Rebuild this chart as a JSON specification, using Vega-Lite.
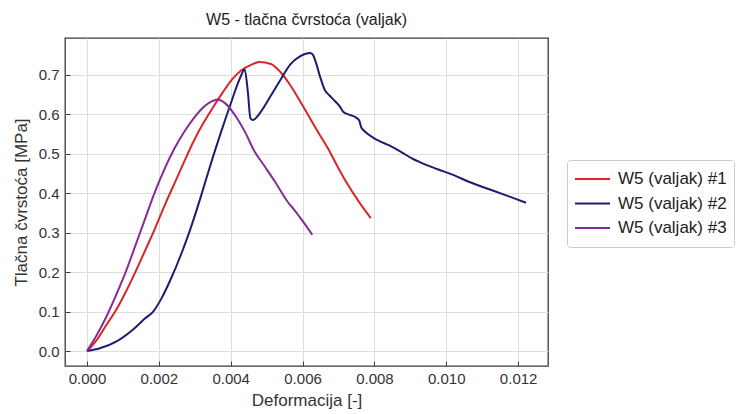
{
  "$schema": "https://vega.github.io/schema/vega-lite/v6.json",
  "width": 483,
  "height": 328,
  "autosize": {"type": "none"},
  "padding": {"left": 65, "top": 38, "right": 197, "bottom": 48},
  "background": "white",
  "title": {
    "text": "W5 - tlačna čvrstoća (valjak)",
    "font": "Liberation Sans",
    "fontSize": 16,
    "fontWeight": "normal",
    "color": "#222222",
    "offset": 10
  },
  "config": {
    "view": {"stroke": "#3a3a3a", "strokeWidth": 1.3},
    "axis": {
      "domain": false,
      "grid": true,
      "gridColor": "#dddddd",
      "gridWidth": 1,
      "tickColor": "#3a3a3a",
      "tickSize": -5,
      "tickWidth": 1,
      "labelFont": "Liberation Sans",
      "labelFontSize": 15,
      "labelColor": "#333333",
      "titleFont": "Liberation Sans",
      "titleFontSize": 17,
      "titleFontWeight": "normal",
      "titleColor": "#333333"
    }
  },
  "datasets": {
    "curves": [
      {"series": "W5 (valjak) #1", "x": 0, "y": 0},
      {"series": "W5 (valjak) #1", "x": 0.00027, "y": 0.028},
      {"series": "W5 (valjak) #1", "x": 0.00054, "y": 0.066},
      {"series": "W5 (valjak) #1", "x": 0.00081, "y": 0.104},
      {"series": "W5 (valjak) #1", "x": 0.00108, "y": 0.150},
      {"series": "W5 (valjak) #1", "x": 0.00135, "y": 0.201},
      {"series": "W5 (valjak) #1", "x": 0.00162, "y": 0.255},
      {"series": "W5 (valjak) #1", "x": 0.00189, "y": 0.310},
      {"series": "W5 (valjak) #1", "x": 0.00216, "y": 0.369},
      {"series": "W5 (valjak) #1", "x": 0.00243, "y": 0.424},
      {"series": "W5 (valjak) #1", "x": 0.00270, "y": 0.479},
      {"series": "W5 (valjak) #1", "x": 0.00297, "y": 0.532},
      {"series": "W5 (valjak) #1", "x": 0.00324, "y": 0.578},
      {"series": "W5 (valjak) #1", "x": 0.00351, "y": 0.618},
      {"series": "W5 (valjak) #1", "x": 0.00378, "y": 0.656},
      {"series": "W5 (valjak) #1", "x": 0.00405, "y": 0.690},
      {"series": "W5 (valjak) #1", "x": 0.00430, "y": 0.712},
      {"series": "W5 (valjak) #1", "x": 0.00455, "y": 0.725},
      {"series": "W5 (valjak) #1", "x": 0.00480, "y": 0.733},
      {"series": "W5 (valjak) #1", "x": 0.00512, "y": 0.728},
      {"series": "W5 (valjak) #1", "x": 0.00539, "y": 0.707},
      {"series": "W5 (valjak) #1", "x": 0.00566, "y": 0.674},
      {"series": "W5 (valjak) #1", "x": 0.00594, "y": 0.632},
      {"series": "W5 (valjak) #1", "x": 0.00621, "y": 0.590},
      {"series": "W5 (valjak) #1", "x": 0.00648, "y": 0.548},
      {"series": "W5 (valjak) #1", "x": 0.00672, "y": 0.512},
      {"series": "W5 (valjak) #1", "x": 0.00695, "y": 0.472},
      {"series": "W5 (valjak) #1", "x": 0.00722, "y": 0.428},
      {"series": "W5 (valjak) #1", "x": 0.00758, "y": 0.377},
      {"series": "W5 (valjak) #1", "x": 0.00790, "y": 0.337},

      {"series": "W5 (valjak) #2", "x": 0, "y": 0},
      {"series": "W5 (valjak) #2", "x": 0.00036, "y": 0.007},
      {"series": "W5 (valjak) #2", "x": 0.00081, "y": 0.024},
      {"series": "W5 (valjak) #2", "x": 0.00126, "y": 0.053},
      {"series": "W5 (valjak) #2", "x": 0.00162, "y": 0.083},
      {"series": "W5 (valjak) #2", "x": 0.00185, "y": 0.101},
      {"series": "W5 (valjak) #2", "x": 0.00207, "y": 0.133},
      {"series": "W5 (valjak) #2", "x": 0.00234, "y": 0.184},
      {"series": "W5 (valjak) #2", "x": 0.00261, "y": 0.243},
      {"series": "W5 (valjak) #2", "x": 0.00288, "y": 0.310},
      {"series": "W5 (valjak) #2", "x": 0.00315, "y": 0.386},
      {"series": "W5 (valjak) #2", "x": 0.00343, "y": 0.470},
      {"series": "W5 (valjak) #2", "x": 0.00372, "y": 0.552},
      {"series": "W5 (valjak) #2", "x": 0.00400, "y": 0.627},
      {"series": "W5 (valjak) #2", "x": 0.00425, "y": 0.690},
      {"series": "W5 (valjak) #2", "x": 0.00439, "y": 0.714},
      {"series": "W5 (valjak) #2", "x": 0.00448, "y": 0.655},
      {"series": "W5 (valjak) #2", "x": 0.00455, "y": 0.590},
      {"series": "W5 (valjak) #2", "x": 0.00462, "y": 0.586},
      {"series": "W5 (valjak) #2", "x": 0.00475, "y": 0.596},
      {"series": "W5 (valjak) #2", "x": 0.00488, "y": 0.612},
      {"series": "W5 (valjak) #2", "x": 0.00512, "y": 0.648},
      {"series": "W5 (valjak) #2", "x": 0.00540, "y": 0.690},
      {"series": "W5 (valjak) #2", "x": 0.00566, "y": 0.727},
      {"series": "W5 (valjak) #2", "x": 0.00594, "y": 0.748},
      {"series": "W5 (valjak) #2", "x": 0.00621, "y": 0.756},
      {"series": "W5 (valjak) #2", "x": 0.00628, "y": 0.752},
      {"series": "W5 (valjak) #2", "x": 0.00636, "y": 0.735},
      {"series": "W5 (valjak) #2", "x": 0.00648, "y": 0.698},
      {"series": "W5 (valjak) #2", "x": 0.00662, "y": 0.662},
      {"series": "W5 (valjak) #2", "x": 0.00675, "y": 0.648},
      {"series": "W5 (valjak) #2", "x": 0.00690, "y": 0.634},
      {"series": "W5 (valjak) #2", "x": 0.00704, "y": 0.620},
      {"series": "W5 (valjak) #2", "x": 0.00713, "y": 0.607},
      {"series": "W5 (valjak) #2", "x": 0.00731, "y": 0.599},
      {"series": "W5 (valjak) #2", "x": 0.00749, "y": 0.592},
      {"series": "W5 (valjak) #2", "x": 0.00758, "y": 0.584},
      {"series": "W5 (valjak) #2", "x": 0.00763, "y": 0.568},
      {"series": "W5 (valjak) #2", "x": 0.00772, "y": 0.558},
      {"series": "W5 (valjak) #2", "x": 0.00795, "y": 0.542},
      {"series": "W5 (valjak) #2", "x": 0.00822, "y": 0.529},
      {"series": "W5 (valjak) #2", "x": 0.00849, "y": 0.518},
      {"series": "W5 (valjak) #2", "x": 0.00876, "y": 0.504},
      {"series": "W5 (valjak) #2", "x": 0.00903, "y": 0.489},
      {"series": "W5 (valjak) #2", "x": 0.00939, "y": 0.474},
      {"series": "W5 (valjak) #2", "x": 0.00976, "y": 0.461},
      {"series": "W5 (valjak) #2", "x": 0.01021, "y": 0.446},
      {"series": "W5 (valjak) #2", "x": 0.01066, "y": 0.428},
      {"series": "W5 (valjak) #2", "x": 0.01111, "y": 0.413},
      {"series": "W5 (valjak) #2", "x": 0.01157, "y": 0.398},
      {"series": "W5 (valjak) #2", "x": 0.01193, "y": 0.386},
      {"series": "W5 (valjak) #2", "x": 0.01222, "y": 0.376},

      {"series": "W5 (valjak) #3", "x": 0, "y": 0},
      {"series": "W5 (valjak) #3", "x": 0.00027, "y": 0.040},
      {"series": "W5 (valjak) #3", "x": 0.00054, "y": 0.087},
      {"series": "W5 (valjak) #3", "x": 0.00081, "y": 0.142},
      {"series": "W5 (valjak) #3", "x": 0.00108, "y": 0.201},
      {"series": "W5 (valjak) #3", "x": 0.00135, "y": 0.268},
      {"series": "W5 (valjak) #3", "x": 0.00162, "y": 0.336},
      {"series": "W5 (valjak) #3", "x": 0.00189, "y": 0.403},
      {"series": "W5 (valjak) #3", "x": 0.00216, "y": 0.462},
      {"series": "W5 (valjak) #3", "x": 0.00243, "y": 0.513},
      {"series": "W5 (valjak) #3", "x": 0.00270, "y": 0.555},
      {"series": "W5 (valjak) #3", "x": 0.00297, "y": 0.590},
      {"series": "W5 (valjak) #3", "x": 0.00324, "y": 0.618},
      {"series": "W5 (valjak) #3", "x": 0.00347, "y": 0.633},
      {"series": "W5 (valjak) #3", "x": 0.00362, "y": 0.638},
      {"series": "W5 (valjak) #3", "x": 0.00385, "y": 0.628},
      {"series": "W5 (valjak) #3", "x": 0.00412, "y": 0.598},
      {"series": "W5 (valjak) #3", "x": 0.00439, "y": 0.557},
      {"series": "W5 (valjak) #3", "x": 0.00466, "y": 0.507},
      {"series": "W5 (valjak) #3", "x": 0.00495, "y": 0.468},
      {"series": "W5 (valjak) #3", "x": 0.00523, "y": 0.430},
      {"series": "W5 (valjak) #3", "x": 0.00559, "y": 0.378},
      {"series": "W5 (valjak) #3", "x": 0.00577, "y": 0.358},
      {"series": "W5 (valjak) #3", "x": 0.00600, "y": 0.330},
      {"series": "W5 (valjak) #3", "x": 0.00627, "y": 0.295}
    ]
  },
  "data": {"name": "curves"},
  "mark": {"type": "line", "strokeWidth": 2, "interpolate": "monotone"},
  "encoding": {
    "x": {
      "field": "x",
      "type": "quantitative",
      "scale": {"domain": [-0.000611, 0.012831], "nice": false, "zero": false},
      "axis": {
        "title": "Deformacija [-]",
        "values": [0, 0.002, 0.004, 0.006, 0.008, 0.010, 0.012],
        "format": ".3f",
        "labelPadding": 10,
        "titlePadding": 6
      }
    },
    "y": {
      "field": "y",
      "type": "quantitative",
      "scale": {"domain": [-0.0378, 0.7938], "nice": false, "zero": false},
      "axis": {
        "title": "Tlačna čvrstoća [MPa]",
        "values": [0, 0.1, 0.2, 0.3, 0.4, 0.5, 0.6, 0.7],
        "format": ".1f",
        "labelPadding": 11,
        "titlePadding": 8
      }
    },
    "color": {
      "field": "series",
      "type": "nominal",
      "scale": {
        "domain": ["W5 (valjak) #1", "W5 (valjak) #2", "W5 (valjak) #3"],
        "range": ["#d8272a", "#1c1c72", "#862c95"]
      },
      "legend": {
        "title": null,
        "orient": "none",
        "legendX": 502,
        "legendY": 122,
        "symbolType": "stroke",
        "symbolSize": 1225,
        "symbolStrokeWidth": 2,
        "clipHeight": 24,
        "labelFont": "Liberation Sans",
        "labelFontSize": 17,
        "labelColor": "#222222",
        "labelOffset": 7,
        "rowPadding": 0.5,
        "padding": 7,
        "strokeColor": "#cccccc",
        "fillColor": "white",
        "cornerRadius": 3
      }
    }
  }
}
